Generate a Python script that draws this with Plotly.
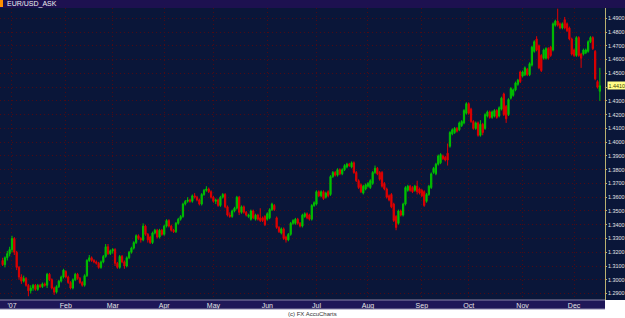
import pandas as pd
import plotly.graph_objects as go

# ---- data (daily EUR/USD ask candles) ----
dates = pd.bdate_range("2006-12-26", "2007-12-18")
x_labels = [d.strftime("%Y-%m-%d") for d in dates]

opens = [
    1.314,1.311,1.316,1.319,1.322,1.330,1.320,1.309,1.302,1.299,
    1.301,1.296,1.292,1.294,1.296,1.293,1.296,1.295,1.297,1.296,
    1.304,1.300,1.294,1.291,1.295,1.299,1.302,1.306,1.302,1.298,
    1.294,1.300,1.304,1.301,1.298,1.296,1.303,1.314,1.316,1.314,
    1.313,1.312,1.309,1.313,1.317,1.324,1.319,1.321,1.322,1.312,
    1.309,1.317,1.313,1.310,1.316,1.320,1.323,1.327,1.332,1.330,
    1.329,1.339,1.333,1.331,1.327,1.334,1.336,1.331,1.336,1.333,
    1.339,1.343,1.339,1.336,1.335,1.341,1.344,1.346,1.355,1.357,
    1.358,1.357,1.361,1.360,1.358,1.355,1.362,1.365,1.366,1.364,
    1.360,1.357,1.358,1.354,1.360,1.362,1.353,1.347,1.346,1.350,
    1.352,1.360,1.349,1.353,1.349,1.346,1.344,1.350,1.344,1.347,
    1.345,1.345,1.346,1.344,1.345,1.351,1.354,1.345,1.338,1.334,
    1.337,1.331,1.329,1.333,1.341,1.341,1.344,1.341,1.339,1.346,
    1.348,1.347,1.344,1.354,1.355,1.364,1.361,1.364,1.360,1.364,
    1.362,1.375,1.378,1.376,1.380,1.377,1.380,1.382,1.384,1.382,
    1.385,1.378,1.372,1.369,1.363,1.366,1.368,1.367,1.370,1.378,
    1.381,1.378,1.378,1.370,1.366,1.361,1.362,1.355,1.346,1.341,
    1.350,1.347,1.355,1.365,1.368,1.367,1.365,1.368,1.366,1.365,
    1.364,1.357,1.362,1.367,1.378,1.377,1.384,1.385,1.390,1.389,
    1.392,1.397,1.406,1.407,1.410,1.409,1.412,1.414,1.421,1.428,
    1.424,1.415,1.410,1.414,1.405,1.413,1.410,1.419,1.422,1.418,
    1.419,1.423,1.419,1.424,1.435,1.426,1.420,1.432,1.434,1.438,
    1.442,1.451,1.448,1.449,1.453,1.449,1.456,1.466,1.475,1.470,
    1.463,1.461,1.461,1.468,1.469,1.467,1.485,1.488,1.486,1.483,
    1.489,1.486,1.483,1.475,1.467,1.463,1.476,1.464,1.464,1.465,
    1.466,1.473,1.476,1.466,1.444,1.437,
]
highs = [
    1.316,1.317,1.321,1.324,1.332,1.331,1.321,1.310,1.304,1.303,
    1.302,1.297,1.296,1.297,1.297,1.297,1.297,1.298,1.298,1.305,
    1.305,1.301,1.295,1.296,1.300,1.303,1.308,1.307,1.303,1.299,
    1.301,1.305,1.305,1.302,1.299,1.304,1.315,1.318,1.317,1.315,
    1.314,1.313,1.314,1.318,1.326,1.326,1.322,1.323,1.323,1.313,
    1.318,1.318,1.314,1.317,1.321,1.324,1.328,1.333,1.333,1.331,
    1.341,1.340,1.334,1.332,1.335,1.337,1.337,1.337,1.337,1.340,
    1.344,1.344,1.340,1.337,1.342,1.345,1.347,1.356,1.358,1.360,
    1.359,1.362,1.363,1.361,1.359,1.363,1.366,1.368,1.367,1.365,
    1.361,1.359,1.359,1.361,1.363,1.363,1.354,1.349,1.351,1.353,
    1.361,1.361,1.354,1.354,1.350,1.348,1.351,1.351,1.348,1.348,
    1.352,1.346,1.347,1.349,1.352,1.356,1.355,1.346,1.339,1.338,
    1.338,1.332,1.334,1.342,1.344,1.345,1.345,1.342,1.348,1.349,
    1.349,1.348,1.355,1.357,1.365,1.365,1.365,1.365,1.364,1.365,
    1.376,1.379,1.379,1.381,1.381,1.381,1.384,1.385,1.385,1.386,
    1.386,1.379,1.373,1.370,1.369,1.370,1.371,1.373,1.379,1.383,
    1.382,1.379,1.379,1.371,1.367,1.362,1.363,1.356,1.347,1.351,
    1.351,1.356,1.368,1.369,1.369,1.368,1.369,1.372,1.367,1.366,
    1.365,1.363,1.369,1.378,1.382,1.385,1.391,1.392,1.391,1.390,
    1.399,1.408,1.410,1.411,1.411,1.415,1.416,1.424,1.429,1.429,
    1.425,1.416,1.415,1.415,1.416,1.414,1.421,1.423,1.423,1.423,
    1.424,1.424,1.426,1.433,1.436,1.427,1.432,1.440,1.439,1.444,
    1.446,1.452,1.452,1.455,1.454,1.458,1.470,1.474,1.477,1.471,
    1.464,1.468,1.469,1.469,1.470,1.487,1.489,1.497,1.487,1.487,
    1.491,1.487,1.484,1.476,1.468,1.477,1.477,1.465,1.468,1.468,
    1.474,1.477,1.477,1.467,1.445,1.454,
]
lows = [
    1.310,1.309,1.314,1.317,1.320,1.318,1.307,1.300,1.297,1.298,
    1.295,1.288,1.290,1.292,1.292,1.292,1.294,1.294,1.295,1.294,
    1.299,1.293,1.289,1.290,1.294,1.298,1.301,1.301,1.297,1.293,
    1.293,1.299,1.300,1.297,1.295,1.295,1.302,1.313,1.313,1.312,
    1.311,1.308,1.308,1.312,1.316,1.318,1.318,1.319,1.310,1.308,
    1.308,1.312,1.308,1.309,1.315,1.319,1.322,1.326,1.329,1.327,
    1.328,1.332,1.327,1.326,1.326,1.333,1.330,1.330,1.332,1.332,
    1.338,1.338,1.335,1.334,1.334,1.340,1.343,1.345,1.354,1.356,
    1.356,1.356,1.359,1.357,1.354,1.354,1.361,1.364,1.363,1.359,
    1.356,1.355,1.353,1.353,1.359,1.352,1.346,1.345,1.345,1.349,
    1.351,1.347,1.348,1.348,1.346,1.345,1.343,1.344,1.343,1.343,
    1.342,1.342,1.339,1.343,1.344,1.350,1.350,1.337,1.334,1.333,
    1.329,1.327,1.328,1.332,1.340,1.340,1.340,1.338,1.338,1.345,
    1.344,1.343,1.343,1.353,1.354,1.360,1.360,1.358,1.359,1.360,
    1.361,1.374,1.375,1.375,1.376,1.376,1.379,1.381,1.382,1.381,
    1.377,1.371,1.366,1.363,1.362,1.365,1.367,1.366,1.369,1.377,
    1.376,1.372,1.367,1.365,1.359,1.357,1.352,1.342,1.336,1.340,
    1.346,1.346,1.354,1.364,1.364,1.363,1.364,1.362,1.362,1.360,
    1.353,1.356,1.361,1.366,1.377,1.376,1.383,1.384,1.387,1.386,
    1.383,1.396,1.405,1.406,1.407,1.408,1.411,1.413,1.420,1.420,
    1.414,1.409,1.409,1.404,1.404,1.405,1.409,1.418,1.417,1.417,
    1.418,1.417,1.418,1.423,1.419,1.414,1.419,1.431,1.433,1.437,
    1.441,1.443,1.447,1.448,1.448,1.448,1.455,1.465,1.466,1.453,
    1.451,1.460,1.460,1.460,1.462,1.466,1.484,1.484,1.482,1.482,
    1.482,1.480,1.474,1.463,1.462,1.462,1.462,1.454,1.463,1.464,
    1.465,1.472,1.467,1.445,1.439,1.430,
]
closes = [
    1.311,1.316,1.319,1.322,1.330,1.320,1.309,1.302,1.299,1.301,
    1.296,1.292,1.294,1.296,1.293,1.296,1.295,1.297,1.296,1.304,
    1.300,1.294,1.291,1.295,1.299,1.302,1.307,1.302,1.298,1.294,
    1.300,1.304,1.301,1.298,1.296,1.303,1.314,1.316,1.314,1.313,
    1.312,1.309,1.313,1.317,1.324,1.319,1.321,1.322,1.312,1.309,
    1.317,1.313,1.310,1.316,1.320,1.323,1.327,1.332,1.330,1.329,
    1.339,1.333,1.329,1.327,1.334,1.336,1.331,1.336,1.333,1.339,
    1.343,1.339,1.336,1.335,1.341,1.344,1.346,1.355,1.357,1.358,
    1.357,1.361,1.360,1.358,1.355,1.362,1.365,1.366,1.364,1.360,
    1.357,1.358,1.354,1.360,1.362,1.353,1.347,1.346,1.350,1.352,
    1.360,1.349,1.353,1.349,1.347,1.347,1.350,1.345,1.347,1.344,
    1.343,1.343,1.340,1.348,1.351,1.355,1.351,1.338,1.335,1.337,
    1.330,1.329,1.333,1.341,1.343,1.344,1.341,1.339,1.347,1.348,
    1.345,1.344,1.354,1.356,1.364,1.361,1.364,1.359,1.363,1.361,
    1.375,1.378,1.376,1.380,1.377,1.380,1.383,1.384,1.383,1.385,
    1.378,1.372,1.367,1.364,1.368,1.369,1.370,1.372,1.378,1.381,
    1.377,1.373,1.368,1.366,1.360,1.358,1.353,1.343,1.338,1.350,
    1.347,1.355,1.367,1.368,1.365,1.364,1.368,1.364,1.363,1.361,
    1.354,1.362,1.368,1.377,1.381,1.384,1.390,1.391,1.388,1.387,
    1.387,1.407,1.409,1.410,1.408,1.414,1.415,1.423,1.428,1.421,
    1.415,1.410,1.414,1.405,1.413,1.407,1.420,1.422,1.418,1.422,
    1.423,1.418,1.425,1.432,1.420,1.417,1.431,1.439,1.438,1.443,
    1.445,1.444,1.451,1.454,1.449,1.457,1.469,1.473,1.467,1.454,
    1.452,1.467,1.468,1.461,1.463,1.486,1.488,1.485,1.483,1.486,
    1.483,1.481,1.475,1.464,1.463,1.476,1.463,1.461,1.467,1.467,
    1.473,1.476,1.468,1.446,1.440,1.441,
]

month_labels = ["'07", "Feb", "Mar", "Apr", "May", "Jun",
                "Jul", "Aug", "Sep", "Oct", "Nov", "Dec"]
y_ticks = [round(1.29 + 0.01 * k, 2) for k in range(21)]
last_price = 1.4410
title_text = "EUR/USD_ASK"
credit_text = "(c) FX AccuCharts"

# first trading day of each month of 2007
month_starts = []
seen = set()
for d in dates:
    if d.year == 2007 and d.month not in seen:
        seen.add(d.month)
        month_starts.append(d.strftime("%Y-%m-%d"))

# the tick label hidden behind the last-price box is left blank
y_ticktext = ["" if abs(v - 1.44) < 1e-9 else f"{v:.4f}" for v in y_ticks]

# ---- style ----
NAVY = "#0a1639"
HEADER = "#1d1150"
BAND = "#1e1758"
GRID = "#4c0a14"
AXIS = "#b8b070"
TXT = "#e6e6e6"
FONT = "Liberation Sans, Arial, sans-serif"
YSIZE = 5.4

W, H = 625, 318
ML, MR, MT, MB = 0, 20, 8, 18
PW, PH = W - ML - MR, H - MT - MB

fig = go.Figure(go.Candlestick(
    x=x_labels, open=opens, high=highs, low=lows, close=closes,
    increasing=dict(line=dict(color="#00c000", width=1), fillcolor="#00c000"),
    decreasing=dict(line=dict(color="#e00000", width=1), fillcolor="#e00000"),
    whiskerwidth=0, hoverinfo="skip",
))

fig.update_layout(
    width=W, height=H,
    margin=dict(l=ML, r=MR, t=MT, b=MB, pad=0, autoexpand=False),
    paper_bgcolor="white", plot_bgcolor=NAVY,
    showlegend=False,
    font=dict(family=FONT, size=7, color=TXT),
    boxgap=0.25,
)
n = len(x_labels)
fig.update_xaxes(
    type="category", range=[-1.12, n + 1.2], automargin=False,
    rangeslider=dict(visible=False),
    tickvals=month_starts, ticktext=month_labels,
    tickfont=dict(size=7, color=TXT, family=FONT),
    ticks="", ticklen=0,
    showgrid=True, gridcolor=GRID, gridwidth=1, griddash="1px,3px",
    showline=False, zeroline=False,
)
fig.update_yaxes(
    side="right", range=[1.2853, 1.4975], automargin=False,
    tickvals=y_ticks, ticktext=y_ticktext,
    tickfont=dict(size=YSIZE, color=TXT, family=FONT),
    ticks="outside", ticklen=1, tickcolor=AXIS,
    showline=True, linecolor=AXIS, linewidth=1,
    showgrid=True, gridcolor=GRID, gridwidth=1, griddash="1px,3px",
    zeroline=False,
)

xr = W / PW  # paper width including right axis column
shapes = [
    dict(type="rect", xref="paper", yref="paper", x0=1, x1=xr, y0=0, y1=1,
         fillcolor=NAVY, line=dict(width=0), layer="below"),
    dict(type="rect", xref="paper", yref="paper", x0=0, x1=xr, y0=1, y1=1 + MT / PH,
         fillcolor=HEADER, line=dict(width=0)),
    dict(type="rect", xref="paper", yref="paper", x0=0, x1=3 / PW,
         y0=1 + 1 / PH, y1=1 + 8 / PH, fillcolor="#ff9000", line=dict(width=0)),
    dict(type="rect", xref="paper", yref="paper", x0=0, x1=1, y0=-9 / PH, y1=0,
         fillcolor=BAND, line=dict(width=0), layer="below"),
    dict(type="line", xref="paper", yref="paper", x0=0, x1=1, y0=0, y1=0,
         line=dict(color="#8a86a8", width=1)),
    dict(type="line", xref="paper", yref="paper", x0=0, x1=1, y0=-9 / PH, y1=-9 / PH,
         line=dict(color="#8a86a8", width=1)),
]
fig.update_layout(shapes=shapes)

fig.add_annotation(
    xref="paper", yref="paper", x=5 / PW, y=1 + 4 / PH, xanchor="left", yanchor="middle",
    text=title_text, showarrow=False, font=dict(size=7, color="#f0f0f0", family=FONT),
)
fig.add_annotation(
    xref="paper", yref="y", x=1 + 1.5 / PW, y=last_price, xanchor="left", yanchor="middle",
    text=f"{last_price:.4f}", showarrow=False, bgcolor="#ffff88", borderpad=0.5,
    font=dict(size=YSIZE, color="#404000", family=FONT),
)
fig.add_annotation(
    xref="paper", yref="paper", x=(W / 2) / PW, y=-14 / PH, xanchor="center", yanchor="middle",
    text=credit_text, showarrow=False, font=dict(size=6, color="#333333", family=FONT),
)

fig.write_html("out.html")
